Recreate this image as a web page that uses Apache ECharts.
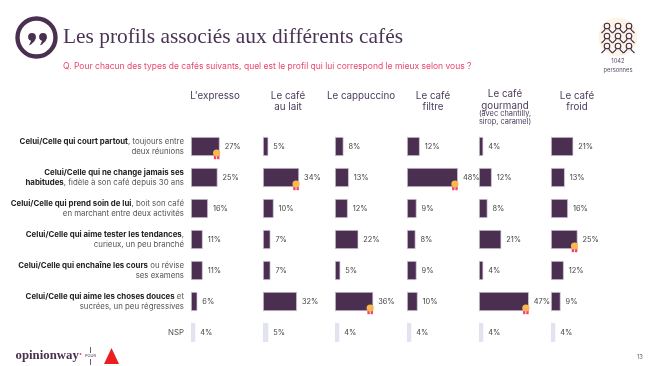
<!DOCTYPE html>
<html><head><meta charset="utf-8">
<style>html,body{margin:0;padding:0;background:#fff}#c{width:650px;height:366px}</style>
<script src="https://cdn.jsdelivr.net/npm/echarts@6/dist/echarts.min.js"></script>
</head><body><div id="c"></div>
<script>
const titleText = "Les profils associés aux différents cafés";
const questionText = "Q. Pour chacun des types de cafés suivants, quel est le profil qui lui correspond le mieux selon vous ?";
const profiles = [
 ["Celui/Celle qui court partout", ", toujours entre", "deux réunions"],
 ["Celui/Celle qui ne change jamais ses", "", "{b|habitudes}{r|, fidèle à son café depuis 30 ans}"],
 ["Celui/Celle qui prend soin de lui", ", boit son café", "en marchant entre deux activités"],
 ["Celui/Celle qui aime tester les tendances", ",", "curieux, un peu branché"],
 ["Celui/Celle qui enchaîne les cours", " ou révise", "ses examens"],
 ["Celui/Celle qui aime les choses douces", " et", "sucrées, un peu régressives"],
 ["", "NSP", ""]
];
const coffees = ["L'expresso","Le café\nau lait","Le cappuccino","Le café\nfiltre","Le café\ngourmand","Le café\nfroid"];
const gourmandNote = "(avec chantilly,\nsirop, caramel)";
const expresso = [27,25,16,11,11,6,4];
const auLait = [5,34,10,7,7,32,5];
const cappuccino = [8,13,12,22,5,36,4];
const filtre = [12,48,9,8,9,10,4];
const gourmand = [4,12,8,21,4,47,4];
const froid = [21,13,16,25,12,9,4];
const columns = [expresso,auLait,cappuccino,filtre,gourmand,froid];
const winners = [0,1,5,1,5,3];
const colX = [191,263,335,407,479,551];
const F = "Inter, 'Noto Sans', sans-serif";
const catIdx = profiles.map((_,i)=>String(i));

const grids=[],xAxes=[],yAxes=[],series=[];
columns.forEach((vals,c)=>{
  grids.push({left:colX[c],top:131,width:70,height:217});
  xAxes.push({gridIndex:c,type:'value',min:0,max:66,show:false});
  yAxes.push({gridIndex:c,type:'category',inverse:true,data:catIdx,
    axisLine:{show:false},axisTick:{show:false},splitLine:{show:false},
    axisLabel: c===0 ? {show:true,margin:7,align:'right',lineHeight:9,
      formatter:(v)=>{const p=profiles[+v];
        if(p[2].startsWith('{b')) return '{b|'+p[0]+'}\n'+p[2];
        return (p[0]?'{b|'+p[0]+'}':'')+'{r|'+p[1]+'}'+(p[2]?'\n{r|'+p[2]+'}':'');},
      rich:{b:{fontFamily:F,fontSize:7.85,fontWeight:700,color:'#222',lineHeight:9.5},
            r:{fontFamily:F,fontSize:7.85,color:'#555',lineHeight:9.5}}} : {show:false}});
  series.push({type:'bar',xAxisIndex:c,yAxisIndex:c,barWidth:19,silent:true,
    data:vals.map((v,i)=>({value:v,itemStyle:i===6?{color:'#e1e4f0',borderWidth:0}:{color:'#4a2f50',borderColor:'#d8cbdc',borderWidth:0.7}})),
    label:{show:true,position:'right',distance:5,formatter:'{c}%',fontFamily:F,fontSize:7.4,color:'#444'}});
  series.push({type:'custom',xAxisIndex:c,yAxisIndex:c,silent:true,z:5,clip:false,
    data:[[vals[winners[c]],winners[c]]],
    renderItem:(p,api)=>{const pt=api.coord([api.value(0),api.value(1)]);
      const x=pt[0]-3,y=pt[1]+6.5;
      return {type:'group',children:[
        {type:'rect',shape:{x:x-2.8,y:y+2,width:2.4,height:4.2},style:{fill:'#f0476c'}},
        {type:'rect',shape:{x:x+0.4,y:y+2,width:2.4,height:4.2},style:{fill:'#f0476c'}},
        {type:'circle',shape:{cx:x,cy:y,r:3.6},style:{fill:'#fbb84e'}}]};}});
});

const titles=[];
const heads=[[215,90],[288,90],[361,90],[433,90],[505,88.5],[577,90]];
coffees.forEach((t,i)=>{titles.push({text:t,left:heads[i][0]-5,top:heads[i][1]-5,textAlign:'center',
  textStyle:{fontFamily:F,fontSize:9.8,fontWeight:400,color:'#4b3a5c',lineHeight:11.5}});});
titles.push({text:gourmandNote,left:500,top:104.5,textAlign:'center',
  textStyle:{fontFamily:F,fontSize:7.4,fontWeight:400,color:'#4b3a5c',lineHeight:8.5}});

const g=[
 {type:'circle',shape:{cx:36.5,cy:37.5,r:19},style:{fill:'none',stroke:'#4a2f50',lineWidth:4.4}}
];
[32,43].forEach(x=>{
  g.push({type:'circle',shape:{cx:x,cy:36.8,r:3.9},style:{fill:'#4a2f50'}});
  g.push({type:'polygon',shape:{points:[[x+3.8,37.5],[x+2.6,41],[x-1,44.5],[x-3,45.2],[x-1.4,42],[x-0.8,39.5]]},style:{fill:'#4a2f50'}});
});
g.push(
 {type:'text',x:63,y:37,style:{text:titleText,fontFamily:"'Liberation Serif',serif",fontSize:21.4,fill:'#4a3355',verticalAlign:'middle'}},
 {type:'text',x:63,y:66,style:{text:questionText,fontFamily:F,fontSize:8.5,fill:'#e8476f',verticalAlign:'middle'}},
 {type:'circle',shape:{cx:618,cy:37,r:19.5},style:{fill:'#fdf3e7'}},
 {type:'text',x:618,y:61,style:{text:'1042',fontFamily:F,fontSize:5.8,fill:'#5a4a66',align:'center',verticalAlign:'middle'}},
 {type:'text',x:618,y:70,style:{text:'personnes',fontFamily:F,fontSize:5.8,fill:'#5a4a66',align:'center',verticalAlign:'middle'}},
 {type:'text',x:15.5,y:356,style:{text:'opinionway',fontFamily:"'Liberation Serif',serif",fontWeight:700,fontSize:12.8,fill:'#4a2f50',verticalAlign:'middle'}},
 {type:'circle',shape:{cx:80.5,cy:354,r:0.9},style:{fill:'#e8476f'}},
 {type:'text',x:90.5,y:356,style:{text:'POUR',fontFamily:F,fontSize:4,fill:'#4a3355',align:'center',verticalAlign:'middle'}},
 {type:'line',shape:{x1:90.5,y1:347,x2:90.5,y2:353},style:{stroke:'#4a3355',lineWidth:0.8}},
 {type:'line',shape:{x1:90.5,y1:359,x2:90.5,y2:365},style:{stroke:'#4a3355',lineWidth:0.8}},
 {type:'polygon',shape:{points:[[111.5,348],[119,364],[104,364]]},style:{fill:'#e8201f'}},
 {type:'text',x:637,y:357,style:{text:'13',fontFamily:F,fontSize:5.8,fill:'#6a5a78',verticalAlign:'middle'}}
);
[0,1,2].forEach(r=>[0,1,2].forEach(cc=>{
  const x=607+cc*11,y=26+r*10;
  g.push({type:'circle',shape:{cx:x,cy:y,r:2.8},style:{fill:'none',stroke:'#3f2c44',lineWidth:1.1}});
  g.push({type:'polyline',shape:{points:[[x-2.2,y+2.5],[x-2.2,y+3.8],[x-5.5,y+7]]},style:{fill:'none',stroke:'#3f2c44',lineWidth:1.1}});
  g.push({type:'polyline',shape:{points:[[x+2.2,y+2.5],[x+2.2,y+3.8],[x+5.5,y+7]]},style:{fill:'none',stroke:'#3f2c44',lineWidth:1.1}});
}));

const chart=echarts.init(document.getElementById('c'),null,{renderer:'canvas'});
chart.setOption({animation:false,backgroundColor:'#fff',title:titles,grid:grids,xAxis:xAxes,yAxis:yAxes,series,graphic:{elements:g},tooltip:{show:false}});
</script></body></html>
